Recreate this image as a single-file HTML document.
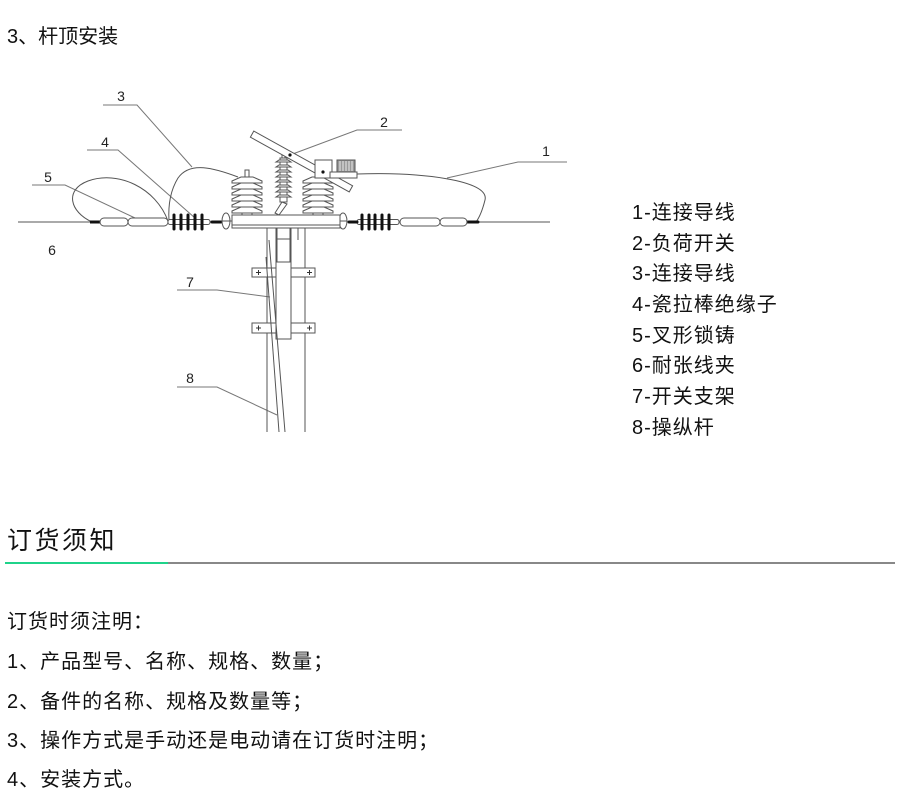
<!DOCTYPE html>
<html><head><meta charset="utf-8"><style>
html,body{margin:0;padding:0;background:#fff;}
body{width:900px;height:797px;position:relative;overflow:hidden;font-family:"Liberation Sans","Noto Sans CJK SC",sans-serif;color:#111;}
.t{position:absolute;white-space:nowrap;}
svg{position:absolute;left:0;top:0;}
</style></head><body>
<div class="t" style="left:7px;top:27px;font-size:20px;line-height:20px;">3、杆顶安装</div>

<svg width="900" height="460" viewBox="0 0 900 460">
<g fill="none" stroke="#777" stroke-width="1">
  <polyline points="103,105 137,105 192,167"/>
  <polyline points="87,150 118,150 195,218"/>
  <polyline points="32,185 65,185 135,218"/>
  <polyline points="290,155 357,130 402,130"/>
  <polyline points="447,178 518,162 567,162"/>
  <polyline points="270,297 217,290 177,290"/>
  <polyline points="277,415 217,387 177,387"/>
</g>
<g fill="none" stroke="#555" stroke-width="1">
  <line x1="18" y1="222" x2="92" y2="222"/>
  <line x1="478" y1="222" x2="550" y2="222"/>
  <path d="M92,222 C70,212 64,190 88,181 C118,170 156,188 168,221"/>
  <path d="M238,177 C214,168 190,161 178,178 C170,191 168,205 169,221"/>
  <path d="M357,174 C420,172 490,180 485,200 C482,212 479,218 476,222"/>
</g>
<g stroke="#555" stroke-width="1">
  <line x1="90" y1="222" x2="101" y2="222" stroke="#111" stroke-width="3"/>
  <rect x="100" y="218" width="28" height="8" rx="4" fill="#fff"/>
  <rect x="128" y="218" width="40" height="8" rx="4" fill="#fff"/>
  <rect x="168" y="219.5" width="42" height="5" rx="2" fill="#fff"/>
  <g stroke="#111" stroke-width="3" stroke-linecap="round">
    <line x1="174" y1="215" x2="174" y2="229"/>
    <line x1="181" y1="215" x2="181" y2="229"/>
    <line x1="188" y1="215" x2="188" y2="229"/>
    <line x1="195" y1="215" x2="195" y2="229"/>
    <line x1="202" y1="215" x2="202" y2="229"/>
    <line x1="212" y1="222" x2="221" y2="222"/>
  </g>
  <ellipse cx="226" cy="221" rx="4" ry="8" fill="#fff"/>
  <line x1="222" y1="221" x2="232" y2="221"/>
</g>
<g stroke="#555" stroke-width="1">
  <ellipse cx="343" cy="221" rx="4" ry="8" fill="#fff"/>
  <line x1="339" y1="221" x2="347" y2="221"/>
  <rect x="357" y="219.5" width="42" height="5" rx="2" fill="#fff"/>
  <g stroke="#111" stroke-width="3" stroke-linecap="round">
    <line x1="349" y1="222" x2="357" y2="222"/>
    <line x1="362" y1="215" x2="362" y2="229"/>
    <line x1="369" y1="215" x2="369" y2="229"/>
    <line x1="375" y1="215" x2="375" y2="229"/>
    <line x1="382" y1="215" x2="382" y2="229"/>
    <line x1="389" y1="215" x2="389" y2="229"/>
    <line x1="467" y1="222" x2="478" y2="222"/>
  </g>
  <rect x="400" y="218" width="40" height="8" rx="4" fill="#fff"/>
  <rect x="440" y="218" width="27" height="8" rx="4" fill="#fff"/>
</g>
<g stroke="#555" stroke-width="1" fill="#fff">
  <rect x="232" y="215" width="108" height="13"/>
  <line x1="232" y1="225" x2="340" y2="225"/>
</g>
<g stroke="#555" stroke-width="1" fill="#fff">
  <rect x="245" y="170" width="4" height="8"/>
  <rect x="242" y="177" width="10" height="38"/>
  <polygon points="241,177 253,177 262,181 262,183 232,183 232,181"/>
  <polygon points="241,183 253,183 262,187 262,189 232,189 232,187"/>
  <polygon points="241,189 253,189 262,193 262,195 232,195 232,193"/>
  <polygon points="241,195 253,195 262,199 262,201 232,201 232,199"/>
  <polygon points="241,201 253,201 262,205 262,207 232,207 232,205"/>
  <polygon points="241,207 253,207 262,211 262,213 232,213 232,211"/>
</g>
<g stroke="#555" stroke-width="1" fill="#fff">
  <rect x="313" y="177" width="10" height="38"/>
  <polygon points="312,177 324,177 333,181 333,183 303,183 303,181"/>
  <polygon points="312,183 324,183 333,187 333,189 303,189 303,187"/>
  <polygon points="312,189 324,189 333,193 333,195 303,195 303,193"/>
  <polygon points="312,195 324,195 333,199 333,201 303,201 303,199"/>
  <polygon points="312,201 324,201 333,205 333,207 303,207 303,205"/>
  <polygon points="312,207 324,207 333,211 333,213 303,213 303,211"/>
</g>
<g stroke="#555" stroke-width="1" fill="#fff">
  <rect x="282" y="151" width="3" height="8"/>
  <rect x="280" y="158" width="7" height="44"/>
  <polygon points="279,160 288,160 291,162 276,162"/>
  <polygon points="279,165 288,165 291,167 276,167"/>
  <polygon points="279,170 288,170 291,172 276,172"/>
  <polygon points="279,175 288,175 291,177 276,177"/>
  <polygon points="279,180 288,180 291,182 276,182"/>
  <polygon points="279,185 288,185 291,187 276,187"/>
  <polygon points="279,190 288,190 291,192 276,192"/>
  <polygon points="279,195 288,195 291,197 276,197"/>
  <polygon points="282,202 287,204 279,215 275,213"/>
</g>
<g stroke="#555" stroke-width="1" fill="#fff">
  <rect x="245" y="158" width="113" height="7" transform="rotate(29 301.5 161.5)"/>
</g>
<circle cx="290" cy="155" r="1.6" fill="#111"/>
<g stroke="#555" stroke-width="1" fill="#fff">
  <rect x="315" y="160" width="17" height="18"/>
  <rect x="330" y="172" width="27" height="6"/>
  <rect x="337" y="160" width="18" height="12" fill="#999"/>
</g>
<g stroke="#fff" stroke-width="0.8">
  <line x1="340" y1="161" x2="340" y2="171"/>
  <line x1="343" y1="161" x2="343" y2="171"/>
  <line x1="346" y1="161" x2="346" y2="171"/>
  <line x1="349" y1="161" x2="349" y2="171"/>
  <line x1="352" y1="161" x2="352" y2="171"/>
</g>
<circle cx="323" cy="172" r="1.6" fill="#111"/>
<g stroke="#555" stroke-width="1" fill="none">
  <line x1="267" y1="228" x2="267" y2="432"/>
  <line x1="305" y1="228" x2="305" y2="432"/>
  <line x1="298" y1="228" x2="298" y2="240"/>
  <rect x="276" y="228" width="15" height="111" fill="#fff"/>
  <rect x="277" y="228" width="13" height="34"/>
  <line x1="276" y1="239" x2="291" y2="239"/>
  <rect x="252" y="268" width="24" height="9" fill="#fff"/>
  <rect x="291" y="268" width="24" height="9" fill="#fff"/>
  <rect x="252" y="323" width="24" height="10" fill="#fff"/>
  <rect x="291" y="323" width="24" height="10" fill="#fff"/>
  <line x1="269" y1="240" x2="285" y2="432"/>
  <line x1="266" y1="257" x2="279" y2="432"/>
</g>
<g stroke="#333" stroke-width="1">
  <line x1="256" y1="272.5" x2="261" y2="272.5"/><line x1="258.5" y1="270" x2="258.5" y2="275"/>
  <line x1="307" y1="272.5" x2="312" y2="272.5"/><line x1="309.5" y1="270" x2="309.5" y2="275"/>
  <line x1="256" y1="328" x2="261" y2="328"/><line x1="258.5" y1="325.5" x2="258.5" y2="330.5"/>
  <line x1="307" y1="328" x2="312" y2="328"/><line x1="309.5" y1="325.5" x2="309.5" y2="330.5"/>
</g>
<g font-family="Liberation Sans, sans-serif" font-size="14" fill="#222" text-anchor="middle">
  <text x="121" y="101">3</text>
  <text x="105" y="147">4</text>
  <text x="48" y="182">5</text>
  <text x="52" y="255">6</text>
  <text x="384" y="127">2</text>
  <text x="546" y="156">1</text>
  <text x="190" y="287">7</text>
  <text x="190" y="383">8</text>
</g>
</svg>

<div style="position:absolute;left:632px;top:203px;font-size:20px;line-height:20px;letter-spacing:1px;">
<div style="height:30.7px">1-连接导线</div>
<div style="height:30.7px">2-负荷开关</div>
<div style="height:30.7px">3-连接导线</div>
<div style="height:30.7px">4-瓷拉棒绝缘子</div>
<div style="height:30.7px">5-叉形锁铸</div>
<div style="height:30.7px">6-耐张线夹</div>
<div style="height:30.7px">7-开关支架</div>
<div style="height:30.7px">8-操纵杆</div>
</div>

<div class="t" style="left:7px;top:529px;font-size:25px;line-height:25px;letter-spacing:2.5px;">订货须知</div>
<div style="position:absolute;left:5px;top:562px;width:890px;height:2px;background:#888;"></div>
<div style="position:absolute;left:5px;top:562px;width:163px;height:2px;background:#1fd38a;"></div>

<div class="t" style="left:7px;top:612px;font-size:20px;line-height:20px;letter-spacing:1px;">订货时须注明：</div>
<div class="t" style="left:7px;top:652px;font-size:20px;line-height:20px;letter-spacing:1px;">1、产品型号、名称、规格、数量；</div>
<div class="t" style="left:7px;top:692px;font-size:20px;line-height:20px;letter-spacing:1px;">2、备件的名称、规格及数量等；</div>
<div class="t" style="left:7px;top:731px;font-size:20px;line-height:20px;letter-spacing:1px;">3、操作方式是手动还是电动请在订货时注明；</div>
<div class="t" style="left:7px;top:770px;font-size:20px;line-height:20px;letter-spacing:1px;">4、安装方式。</div>
</body></html>
